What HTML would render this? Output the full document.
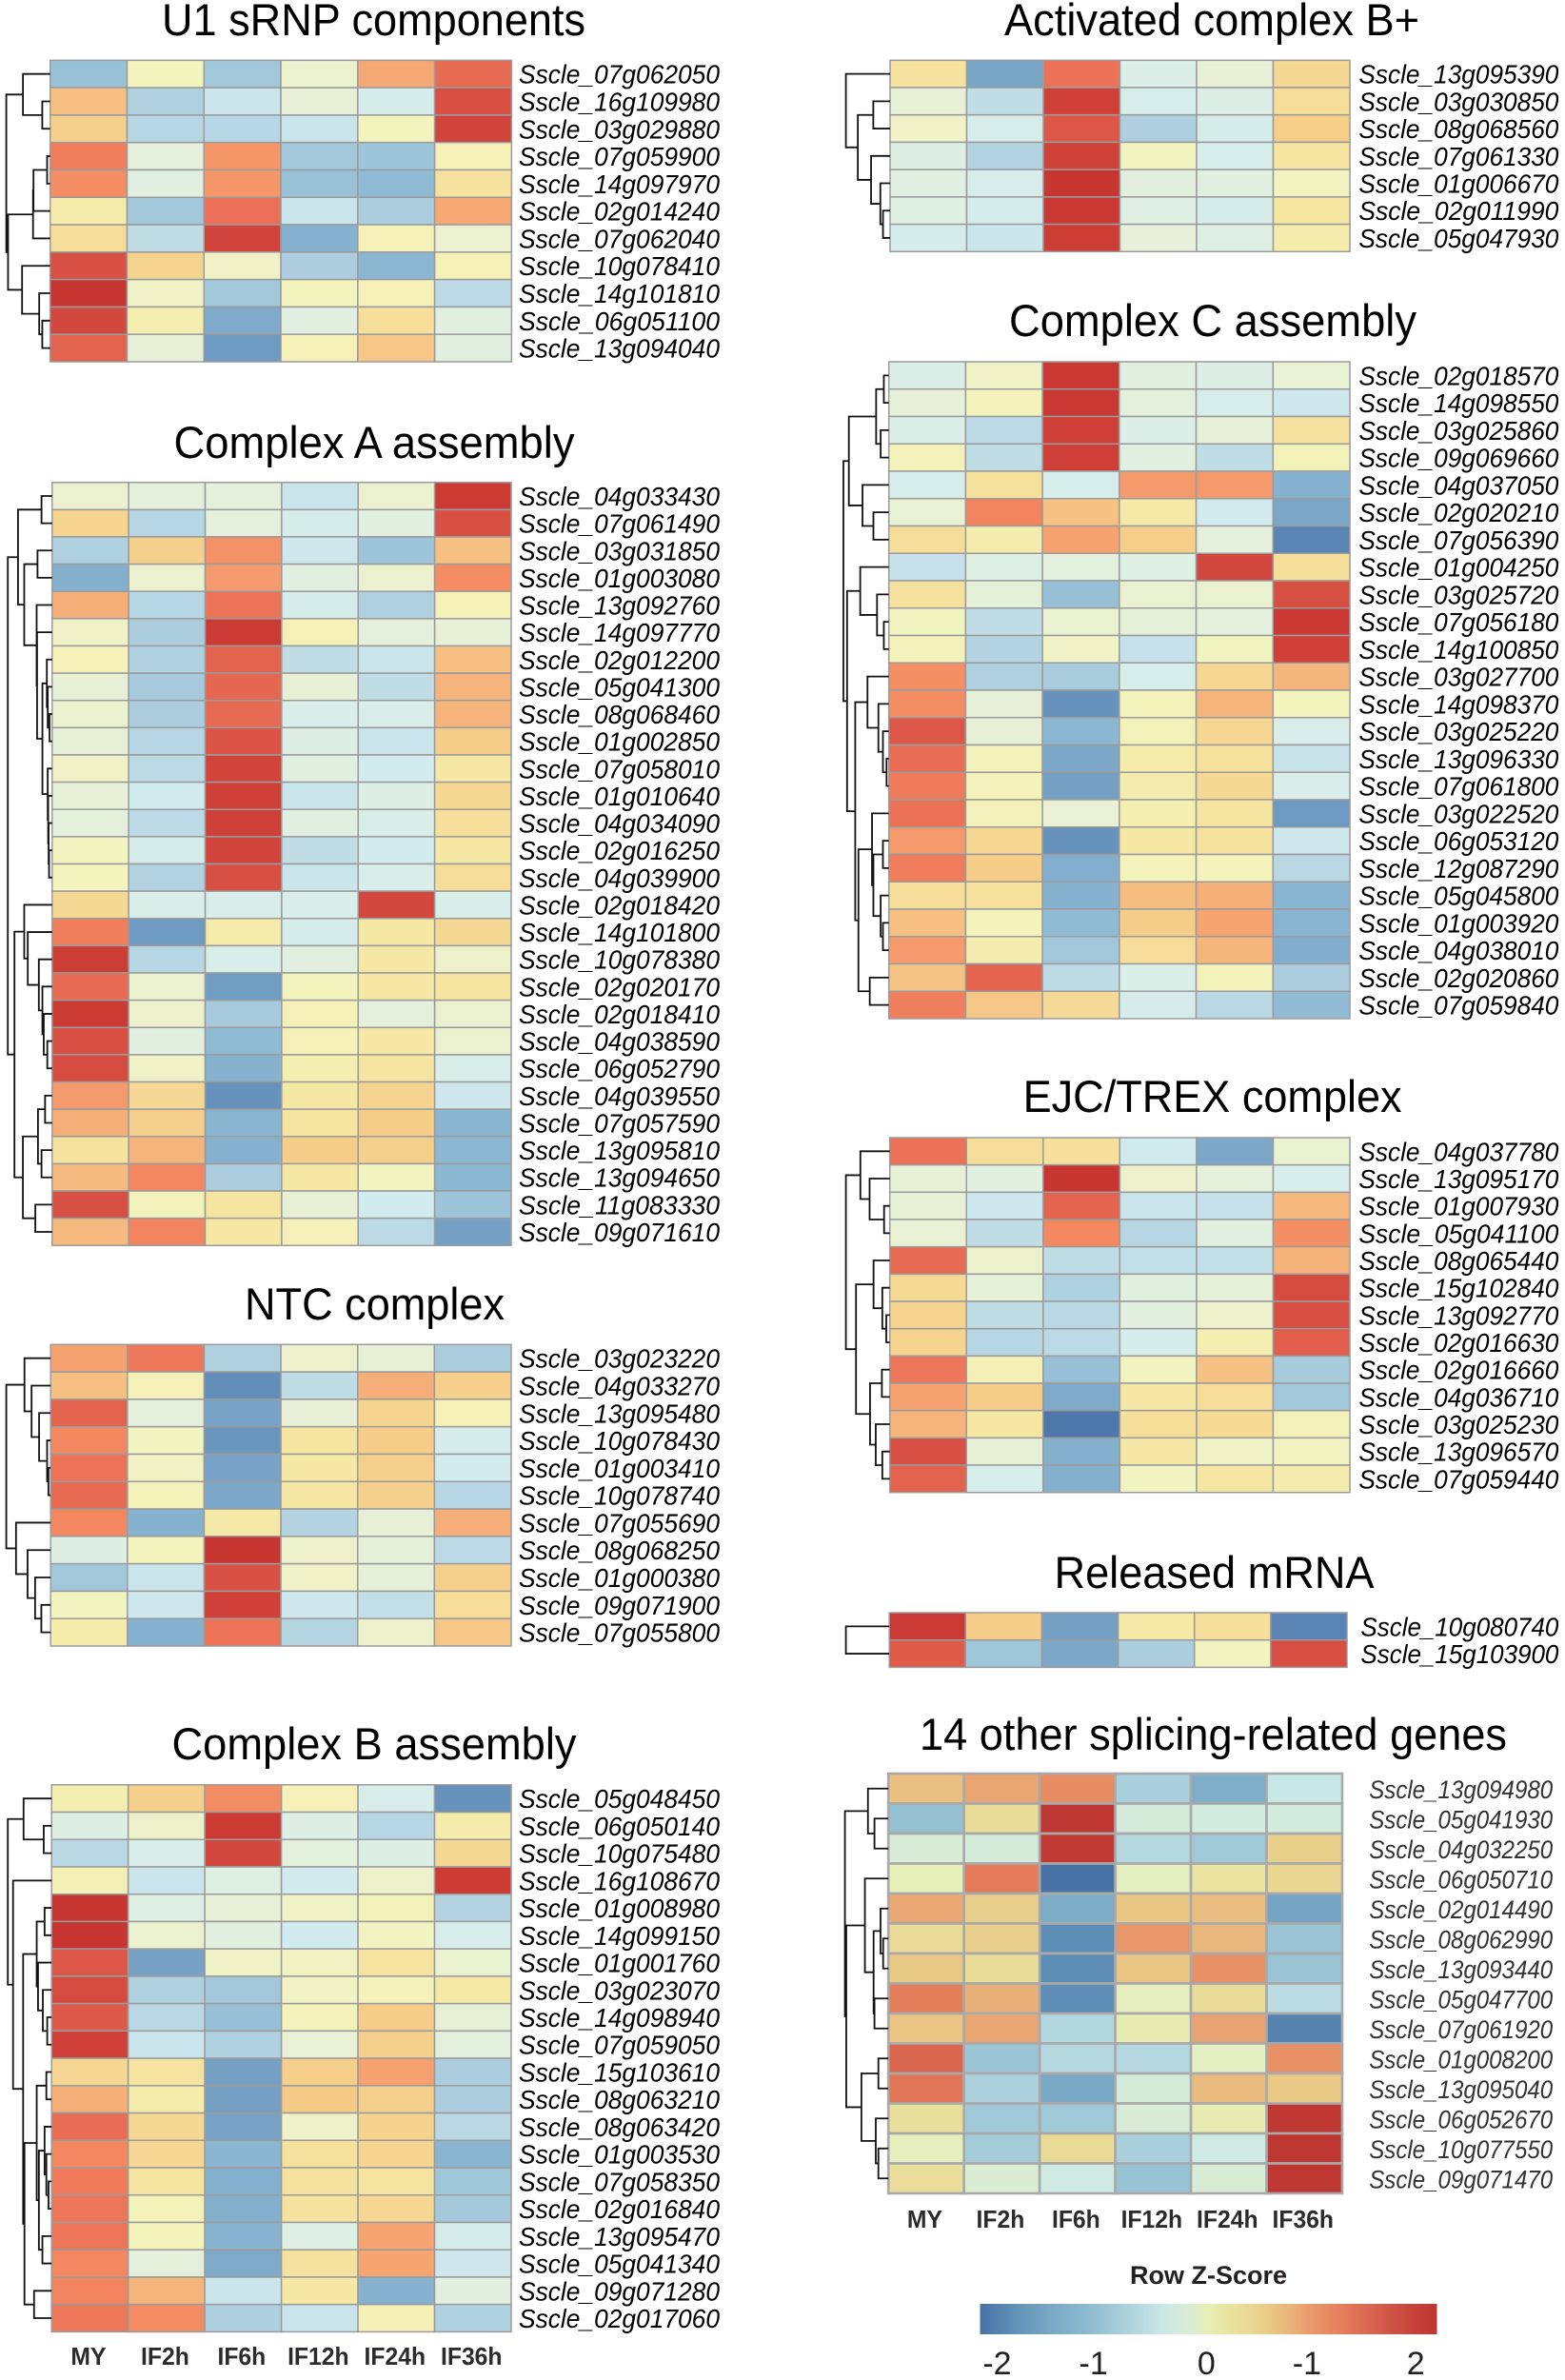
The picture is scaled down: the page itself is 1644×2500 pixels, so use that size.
<!DOCTYPE html>
<html lang="en">
<head>
<meta charset="utf-8">
<title>Splicing-related gene heatmaps</title>
<style>
html,body{margin:0;padding:0;background:#fff}
svg{display:block}
text{font-family:"Liberation Sans",Arial,sans-serif}
.title{font-size:47px;fill:#000}
.gene{font-size:27.5px;font-style:italic;fill:#000}
.col{font-size:26px;font-weight:bold;fill:#2b2b2b;text-anchor:middle}
</style>
</head>
<body>
<svg id="figure" xmlns="http://www.w3.org/2000/svg" width="1644" height="2500" viewBox="0 0 1644 2500">
<rect width="1644" height="2500" fill="#fff"/>
<text class="title" x="170" y="37" textLength="445" lengthAdjust="spacingAndGlyphs">U1 sRNP components</text>
<text class="title" x="182.5" y="481" textLength="421" lengthAdjust="spacingAndGlyphs">Complex A assembly</text>
<text class="title" x="257" y="1386" textLength="273" lengthAdjust="spacingAndGlyphs">NTC complex</text>
<text class="title" x="180.5" y="1848" textLength="425" lengthAdjust="spacingAndGlyphs">Complex B assembly</text>
<text class="title" x="1055" y="37" textLength="436" lengthAdjust="spacingAndGlyphs">Activated complex B+</text>
<text class="title" x="1060" y="353" textLength="428" lengthAdjust="spacingAndGlyphs">Complex C assembly</text>
<text class="title" x="1074.6" y="1168" textLength="398" lengthAdjust="spacingAndGlyphs">EJC/TREX complex</text>
<text class="title" x="1107.5" y="1668" textLength="336" lengthAdjust="spacingAndGlyphs">Released mRNA</text>
<text class="title" x="966" y="1838" textLength="617" lengthAdjust="spacingAndGlyphs">14 other splicing-related genes</text>
<text x="1187" y="2399" font-size="27" font-weight="bold" fill="#231f20" textLength="165" lengthAdjust="spacingAndGlyphs">Row Z-Score</text>
<g id="panels"></g>
<g id="legend"></g>
</svg>
<script>
// ---- shared axes data ----
var sampleNames = ["MY","IF2h","IF6h","IF12h","IF24h","IF36h"];
var colorZ = [-2.2,-1.8,-1.5,-1.2,-1.0,-0.8,-0.6,-0.45,-0.3,-0.15,0,0.2,0.4,0.6,0.8,1.0,1.2,1.4,1.6,1.8,2.0,2.2];
var colorHex = ["#4a72a8","#6a96be","#7faaca","#8fbad4","#a2c7da","#b3d3e1","#c4e0e8","#d2ebee","#ddefe5","#e7f0d6","#f3f3be","#f5e8a4","#f5dc98","#f5cc88","#f5b47c","#f59a6c","#f38860","#ec7358","#e2634e","#d84f43","#ce4038","#c73530"];
var legendTickValues = [-2,-1.08,0,0.96,2];
var legendTickLabels = ["-2","-1","0","-1","2"];

// ---- U1 sRNP ----
var u1Genes = ["Sscle_07g062050","Sscle_16g109980","Sscle_03g029880","Sscle_07g059900","Sscle_14g097970","Sscle_02g014240","Sscle_07g062040","Sscle_10g078410","Sscle_14g101810","Sscle_06g051100","Sscle_13g094040"];
var u1Values = [
[-1.1,0,-1,-.1,.9,1.5],[.7,-.85,-.55,-.15,-.4,1.8],[.55,-.75,-.75,-.55,0,1.95],
[1.3,-.2,1.05,-1,-1.05,.05],[1.15,-.25,1.05,-1.1,-1.2,.3],[.15,-1,1.45,-.55,-.9,.9],
[.4,-.65,1.95,-1.35,.05,-.1],[1.8,.5,-.05,-.9,-1.25,.05],[2.2,-.05,-1,0,.05,-.7],
[1.9,.1,-1.5,-.25,.35,-.25],[1.6,-.15,-1.75,.05,.65,-.25]];
var u1Tree = [1,[.62,0,[.18,0,0]],[.96,[.39,[.38,[.07,0,0],0],0],[.64,0,[.25,0,[.18,0,0]]]]];

// ---- Complex A ----
var complexAGenes = ["Sscle_04g033430","Sscle_07g061490","Sscle_03g031850","Sscle_01g003080","Sscle_13g092760","Sscle_14g097770","Sscle_02g012200","Sscle_05g041300","Sscle_08g068460","Sscle_01g002850","Sscle_07g058010","Sscle_01g010640","Sscle_04g034090","Sscle_02g016250","Sscle_04g039900","Sscle_02g018420","Sscle_14g101800","Sscle_10g078380","Sscle_02g020170","Sscle_02g018410","Sscle_04g038590","Sscle_06g052790","Sscle_04g039550","Sscle_07g057590","Sscle_13g095810","Sscle_13g094650","Sscle_11g083330","Sscle_09g071610"];
var complexAValues = [
[-.1,-.2,-.2,-.55,-.1,2.1],[.5,-.75,-.2,-.4,-.25,1.8],[-.85,.55,1.1,-.5,-1.05,.7],
[-1.4,-.1,1,-.25,-.1,1.15],[.85,-.75,1.4,-.4,-.85,.05],[-.05,-.9,2.1,.05,-.2,-.15],
[.05,-.85,1.6,-.65,-.55,.7],[-.15,-.95,1.55,-.15,-.65,.8],[-.1,-.9,1.5,-.35,-.35,.8],
[-.15,-.75,1.75,-.3,-.55,.6],[-.05,-.7,1.95,-.25,-.45,.2],[-.15,-.45,2,-.55,-.3,.45],
[-.2,-.7,2,-.25,-.35,.35],[-.02,-.4,1.95,-.65,-.45,.2],[0,-.8,1.8,-.55,-.35,.4],
[.45,-.35,-.35,-.35,1.9,-.35],[1.3,-1.75,.15,-.4,.2,.45],[2.05,-.75,-.35,-.25,.2,-.08],
[1.5,-.1,-1.7,0,.2,.25],[2.1,-.08,-.95,.05,-.2,-.1],[1.8,-.25,-1.2,.05,.2,-.1],
[1.85,-.05,-1.35,.1,.25,-.35],[1,.45,-1.85,.2,.5,-.5],[.85,.55,-1.3,.25,.6,-1.3],
[.3,.8,-1.35,.6,.55,-1.25],[.75,1.2,-.9,.2,-.02,-1.25],[1.8,.03,.25,-.15,-.45,-1.05],
[.75,1.25,.2,.05,-.7,-1.65]];
var complexATree = [1,[.77,[.24,0,0],[.63,[.33,0,0],[.35,0,[.34,0,[.22,[.12,0,[.1,0,[.06,0,0]]],[.1,0,[.09,0,[.08,0,[.07,0,0]]]]]]]]],[.85,[.63,0,[.55,0,[.3,0,[.22,0,[.19,0,[.11,0,0]]]]]],[.66,[.32,[.16,0,0],[.24,0,0]],[.38,0,0]]]];

// ---- NTC ----
var ntcGenes = ["Sscle_03g023220","Sscle_04g033270","Sscle_13g095480","Sscle_10g078430","Sscle_01g003410","Sscle_10g078740","Sscle_07g055690","Sscle_08g068250","Sscle_01g000380","Sscle_09g071900","Sscle_07g055800"];
var ntcValues = [
[.95,1.35,-.85,-.08,-.15,-.9],[.7,.05,-1.9,-.65,.85,.55],[1.6,-.2,-1.6,-.15,.5,.05],
[1.2,-.02,-1.8,.25,.6,-.4],[1.4,-.03,-1.6,.2,.55,-.45],[1.5,.03,-1.55,.22,.55,-.75],
[1.2,-1.35,.18,-.8,-.15,.85],[-.3,0,2.2,-.08,-.18,-.7],[-1,-.55,1.8,-.05,-.18,.55],
[-.02,-.5,2,-.5,-.62,.38],[.15,-1.35,1.4,-.78,-.08,.65]];
var ntcTree = [1,[.59,0,[.43,0,[.26,0,[.08,0,[.05,0,0]]]]],[.78,0,[.52,0,[.35,0,[.21,0,0]]]]];

// ---- Complex B ----
var complexBGenes = ["Sscle_05g048450","Sscle_06g050140","Sscle_10g075480","Sscle_16g108670","Sscle_01g008980","Sscle_14g099150","Sscle_01g001760","Sscle_03g023070","Sscle_14g098940","Sscle_07g059050","Sscle_15g103610","Sscle_08g063210","Sscle_08g063420","Sscle_01g003530","Sscle_07g058350","Sscle_02g016840","Sscle_13g095470","Sscle_05g041340","Sscle_09g071280","Sscle_02g017060"];
var complexBValues = [
[.1,.55,1.15,.05,-.38,-1.85],[-.3,-.08,2.1,-.3,-.75,.15],[-.72,-.35,1.9,-.22,-.3,.45],
[.08,-.55,-.27,-.45,-.08,2.1],[2.18,-.28,-.15,-.05,.02,-.8],[2.18,-.1,-.25,-.45,-.02,-.38],
[1.72,-1.62,-.05,-.03,.28,-.12],[1.85,-.85,-1,-.03,.02,.18],[1.7,-.72,-1.12,.02,.6,-.15],
[2,-.55,-.85,-.13,.55,-.22],[.48,.27,-1.65,.58,.95,-.9],[.85,.15,-1.65,.62,.55,-.88],
[1.48,.45,-1.6,-.07,.52,-.72],[1.2,.48,-1.28,.33,.5,-1.3],[1.32,.27,-1.38,.3,.27,-1.02],
[1.38,.03,-1.4,.3,.48,-.97],[1.38,.02,-1.33,-.28,.92,-.4],[1.2,-.2,-1.52,.3,.92,-.5],
[1.25,.8,-.52,.2,-1.35,-.25],[1.35,1.15,-.87,-.55,.08,-.82]];
var complexBTree = [1,[.64,0,[.18,0,0]],[.88,0,[.65,[.34,[.16,0,0],[.31,0,[.2,0,[.1,0,0]]]],[.62,[.34,[.12,0,0],[.29,[.16,0,[.12,0,[.07,0,0]]],[.21,0,0]]],[.4,0,0]]]]];

// ---- Activated complex B+ ----
var activatedGenes = ["Sscle_13g095390","Sscle_03g030850","Sscle_08g068560","Sscle_07g061330","Sscle_01g006670","Sscle_02g011990","Sscle_05g047930"];
var activatedValues = [
[.3,-1.58,1.42,-.33,-.15,.45],[-.15,-.65,2,-.38,-.32,.4],[-.05,-.38,1.72,-.87,-.4,.57],
[-.3,-.8,1.98,-.02,-.38,.25],[-.26,-.37,2.18,-.23,-.25,-.02],[-.27,-.42,2.15,-.28,-.4,.24],
[-.4,-.52,2.05,-.17,-.28,.14]];
var activatedTree = [1,0,[.73,[.38,0,0],[.43,0,[.22,0,[.16,0,0]]]]];

// ---- Complex C ----
var complexCGenes = ["Sscle_02g018570","Sscle_14g098550","Sscle_03g025860","Sscle_09g069660","Sscle_04g037050","Sscle_02g020210","Sscle_07g056390","Sscle_01g004250","Sscle_03g025720","Sscle_07g056180","Sscle_14g100850","Sscle_03g027700","Sscle_14g098370","Sscle_03g025220","Sscle_13g096330","Sscle_07g061800","Sscle_03g022520","Sscle_06g053120","Sscle_12g087290","Sscle_05g045800","Sscle_01g003920","Sscle_04g038010","Sscle_02g020860","Sscle_07g059840"];
var complexCValues = [
[-.33,-.05,2.15,-.25,-.32,-.13],[-.17,.02,2.15,-.2,-.38,-.5],[-.33,-.7,2,-.33,-.17,.32],
[.03,-.65,2.02,-.25,-.65,.03],[-.38,.33,-.38,1,1,-1.35],[-.13,1.25,.68,.18,-.45,-1.55],
[.38,.13,.95,.57,-.2,-2],[-.58,-.28,-.22,-.28,1.9,.35],[.32,-.18,-1.12,-.12,-.12,1.82],
[-.02,-.65,-.12,-.18,-.2,2.15],[.03,-.8,-.05,-.58,-.02,2],[1.12,-.85,-.92,-.38,.47,.78],
[1.12,-.17,-1.85,.02,.8,0],[1.72,-.15,-1.25,.03,.47,-.36],[1.48,.03,-1.55,.15,.33,-.57],
[1.32,.02,-1.65,.12,.45,-.35],[1.42,.03,-.13,.1,.27,-1.75],[1,.47,-1.85,.2,.3,-.5],
[1.3,.6,-1.42,.02,.02,-.72],[.4,.33,-1.35,.72,.85,-1.27],[.7,.02,-1.2,.6,.92,-1.3],
[1,.12,-1,.38,.78,-1.45],[.67,1.6,-.68,-.33,.03,-.9],[1.28,.65,.43,-.4,-.72,-1.18]];
var complexCTree = [1,[.88,[.28,[.11,0,0],[.18,0,0]],[.58,0,[.34,0,0]]],[.92,[.63,0,[.26,0,[.11,0,0]]],[.74,[.47,0,[.23,0,[.13,0,[.05,0,0]]]],[.67,[.37,0,[.34,[.13,0,0],[.18,0,[.13,0,0]]]],[.42,0,0]]]]];

// ---- EJC/TREX ----
var ejcGenes = ["Sscle_04g037780","Sscle_13g095170","Sscle_01g007930","Sscle_05g041100","Sscle_08g065440","Sscle_15g102840","Sscle_13g092770","Sscle_02g016630","Sscle_02g016660","Sscle_04g036710","Sscle_03g025230","Sscle_13g096570","Sscle_07g059440"];
var ejcValues = [
[1.42,.38,.35,-.46,-1.55,-.12],[-.15,-.25,2.18,-.08,-.2,-.38],[-.15,-.5,1.6,-.55,-.58,.77],
[-.13,-.65,1.2,-.75,-.25,1.12],[1.5,-.08,-.65,-.62,-.62,.82],[.42,-.18,-.85,-.25,-.18,1.85],
[.5,-.65,-.73,-.23,-.08,1.8],[.5,-.75,-.7,-.4,.1,1.65],[1.38,.08,-1.12,-.02,.68,-.93],
[.95,.6,-1.5,.2,.38,-1],[.8,.22,-2.15,.35,.42,.03],[1.8,-.15,-1.4,.2,-.05,-.02],
[1.6,-.38,-1.4,-.02,.22,.13]];
var ejcTree = [1,[.67,0,[.46,0,[.13,0,0]]],[.77,[.37,0,[.17,0,[.08,0,0]]],[.45,[.18,0,0],[.32,0,[.17,0,0]]]]];

// ---- Released mRNA ----
var releasedGenes = ["Sscle_10g080740","Sscle_15g103900"];
var releasedValues = [[2.12,.6,-1.65,.18,.35,-2],[1.68,-1.02,-1.55,-.9,-.02,1.82]];
var releasedTree = [1,0,0];

// ---- 14 other genes ----
var otherGenes = ["Sscle_13g094980","Sscle_05g041930","Sscle_04g032250","Sscle_06g050710","Sscle_02g014490","Sscle_08g062990","Sscle_13g093440","Sscle_05g047700","Sscle_07g061920","Sscle_01g008200","Sscle_13g095040","Sscle_06g052670","Sscle_10g077550","Sscle_09g071470"];
var otherValues = [
[.68,.9,1.15,-.82,-1.38,-.45],[-1.05,.32,2.18,-.25,-.28,-.28],[-.22,-.25,2.12,-.68,-.92,.52],
[0,1.32,-2.18,-.05,.22,.42],[.88,.52,-1.42,.62,.7,-1.55],[.33,.52,-1.9,1.02,.75,-1],
[.6,.32,-1.9,.63,1.08,-1],[1.28,.82,-1.9,-.02,.33,-.62],[.63,.9,-.7,.05,.92,-2],
[1.55,-.97,-.67,-.68,-.05,1.08],[1.38,-.78,-1.48,-.25,.72,.6],[.28,-.92,-.92,-.22,.05,2.18],
[-.02,-.87,.38,-.8,-.35,2.18],[.3,-.18,-.35,-1.02,-.2,2.18]];
var otherTree = [1,[.47,0,[.32,0,0]],[.97,[.54,0,[.34,[.18,0,[.12,0,0]],[.32,0,0]]],[.62,[.23,0,0],[.29,0,[.23,0,0]]]]];

// ---- drawing ----
var SVGNS = "http://www.w3.org/2000/svg";
function hexRgb(h){return [parseInt(h.substr(1,2),16),parseInt(h.substr(3,2),16),parseInt(h.substr(5,2),16)];}
function colorFor(z,muted){
  var i=0,c;
  if(z<=colorZ[0]){c=hexRgb(colorHex[0]);}
  else if(z>=colorZ[colorZ.length-1]){c=hexRgb(colorHex[colorHex.length-1]);}
  else{
    while(z>colorZ[i+1]){i++;}
    var t=(z-colorZ[i])/(colorZ[i+1]-colorZ[i]),a=hexRgb(colorHex[i]),b=hexRgb(colorHex[i+1]);
    c=[a[0]+(b[0]-a[0])*t,a[1]+(b[1]-a[1])*t,a[2]+(b[2]-a[2])*t];
  }
  if(muted){c=[c[0]*.95,c[1]*.97+3,c[2]*.96+3];}
  return "rgb("+Math.round(c[0])+","+Math.round(c[1])+","+Math.round(c[2])+")";
}
function make(tag,attrs,parent){
  var e=document.createElementNS(SVGNS,tag);
  for(var k in attrs){e.setAttribute(k,attrs[k]);}
  parent.appendChild(e);
  return e;
}
function drawPanel(name,genes,values,tree,o){
  var root=document.getElementById("panels");
  var g=make("g",{},root);
  
  
  var colW=(o.right-o.left)/sampleNames.length;
  var rowH=(o.bottom-o.top)/genes.length;
  function xCol(j){return o.left+j*colW;}
  function yRow(i){return o.top+i*rowH;}
  var grid=o.grid||"#9b9b9b",gw=o.gridWidth||1.5;
  values.forEach(function(row,i){
    row.forEach(function(v,j){
      var r=make("rect",{x:xCol(j),y:yRow(i),width:colW,height:rowH,fill:colorFor(v,o.muted),stroke:grid,"stroke-width":gw},g);
      
      
    });
    var t=make("text",{x:o.labelX,y:yRow(i)+rowH/2+10,"class":"gene",textLength:o.labelW,lengthAdjust:"spacingAndGlyphs"},g);
    if(o.muted){t.setAttribute("style","font-size:26.5px;fill:#333");}
    t.textContent=genes[i];
    
    
  });
  // dendrogram
  var next=0;
  function xHeight(h){return o.left-h*(o.left-o.rootX);}
  function link(d,w){
    var p=make("path",{d:d,fill:"none",stroke:"#111","stroke-width":w||1.8},g);
    
    
  }
  function layout(n){
    if(n===0){var y=yRow(next)+rowH/2;next++;return {x:o.left,y:y};}
    var a=layout(n[1]),b=layout(n[2]),x=xHeight(n[0]);
    link("M"+a.x+" "+a.y+"H"+x+"V"+b.y+"H"+b.x);
    return {x:x,y:(a.y+b.y)/2};
  }
  layout(tree);
  // sample labels
  if(o.columnLabelY){
    sampleNames.forEach(function(s,j){
      var c=make("text",{x:xCol(j)+colW/2-1.5,y:o.columnLabelY,"class":"col"},g);
      c.textContent=s;
      c.setAttribute('textLength', c.getComputedTextLength()*0.95);
      c.setAttribute('lengthAdjust', 'spacingAndGlyphs');
      
      
    });
  }
}
drawPanel("u1-snrnp",u1Genes,u1Values,u1Tree,{left:52.7,right:537.4,top:63.3,bottom:380,rootX:6.6,labelX:545,labelW:211});
drawPanel("complex-a",complexAGenes,complexAValues,complexATree,{left:54.8,right:537,top:506.7,bottom:1308.3,rootX:8.2,labelX:545,labelW:211});
drawPanel("ntc",ntcGenes,ntcValues,ntcTree,{left:53.2,right:537,top:1412.3,bottom:1729,rootX:6.6,labelX:545,labelW:211});
drawPanel("complex-b",complexBGenes,complexBValues,complexBTree,{left:54.2,right:537,top:1874.8,bottom:2449.4,rootX:8.2,labelX:545,labelW:211,columnLabelY:2484});
drawPanel("activated-b",activatedGenes,activatedValues,activatedTree,{left:935,right:1418,top:63.3,bottom:264.3,rootX:888.6,labelX:1427.4,labelW:210});
drawPanel("complex-c",complexCGenes,complexCValues,complexCTree,{left:933.7,right:1418,top:380,bottom:1070,rootX:886,labelX:1427.4,labelW:210});
drawPanel("ejc-trex",ejcGenes,ejcValues,ejcTree,{left:934.7,right:1418,top:1195,bottom:1567.7,rootX:888.6,labelX:1427.4,labelW:210});
drawPanel("released-mrna",releasedGenes,releasedValues,releasedTree,{left:934.2,right:1415,top:1694,bottom:1751.4,rootX:888.6,labelX:1429.4,labelW:208});
drawPanel("other-genes",otherGenes,otherValues,otherTree,{left:933.2,right:1410,top:1863,bottom:2304,rootX:887.6,labelX:1438.2,labelW:193,muted:true,grid:"#a9a9a9",gridWidth:2.6,columnLabelY:2340});

// legend
var legend=document.getElementById("legend");
var barLeft=1029.5,barRight=1511,barZMin=-2.18,barZMax=2.2;
function xLegend(z){return barLeft+(z-barZMin)/(barZMax-barZMin)*(barRight-barLeft);}
var defs=make("defs",{},legend);
var grad=make("linearGradient",{id:"zscore-gradient",x1:"0",x2:"1",y1:"0",y2:"0"},defs);
colorZ.forEach(function(z){
  make("stop",{offset:Math.min(1,Math.max(0,(z-barZMin)/(barZMax-barZMin))),"stop-color":colorFor(z,true)},grad);
});
var bar=make("rect",{x:barLeft,y:2420,width:barRight-barLeft-1.5,height:32,fill:"url(#zscore-gradient)"},legend);


legendTickValues.forEach(function(v,i){
  var t=make("text",{x:xLegend(v)-1.8,y:2494,"text-anchor":"middle","font-size":"34",fill:"#231f20"},legend);
  t.textContent=legendTickLabels[i];
  
  
});
</script>
</body>
</html>
